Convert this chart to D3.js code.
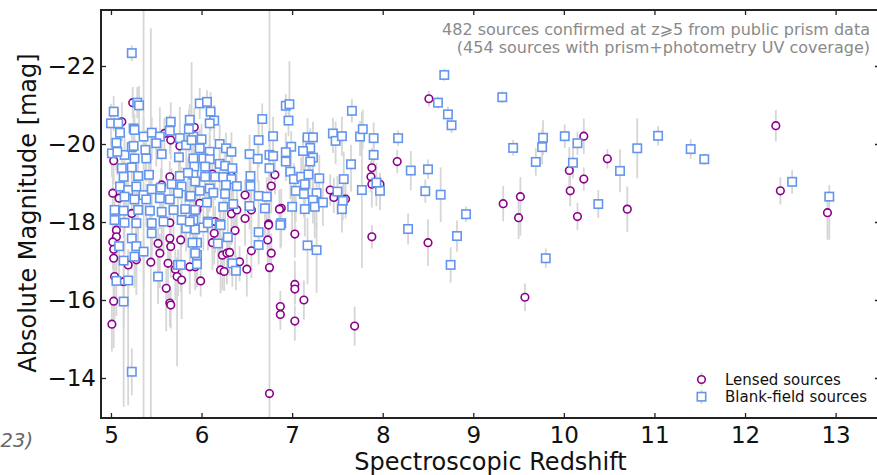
<!DOCTYPE html>
<html><head><meta charset="utf-8">
<script src="https://cdn.jsdelivr.net/npm/d3@7"></script>
<style>body{margin:0;background:#fff}svg{display:block}</style>
</head><body><svg id="c" width="877" height="475"></svg>
<script>
// ---- data ----
const xTicks = [5, 6, 7, 8, 9, 10, 11, 12, 13];
const yTicks = [-22, -20, -18, -16, -14];
const legendLabels = ["Lensed sources", "Blank-field sources"];
const noteLines = ["482 sources confirmed at z\u2A7E5 from public prism data", "(454 sources with prism+photometry UV coverage)"];
// [redshift, M_UV, err toward bright, err toward faint]
const lensed = [
[8.51,-21.16,0.2,0.2],[10.22,-20.2,0.45,0.45],[12.34,-20.47,0.4,0.4],[8.16,-19.55,0.3,0.3],
[9.33,-18.47,0.45,0.45],[9.52,-18.65,0.5,1.0],[9.50,-18.11,0.55,0.55],[10.06,-19.32,0.6,0.6],
[10.07,-18.80,0.4,0.4],[10.15,-18.14,0.35,0.35],[10.48,-19.62,0.25,0.25],[10.22,-19.10,0.3,0.3],
[10.70,-18.33,0.58,0.58],[12.39,-18.80,0.35,0.35],[12.91,-18.24,0.4,0.7],[8.50,-17.47,0.6,0.6],
[9.57,-16.07,0.35,0.35],[7.69,-15.33,0.5,0.5],[7.88,-17.62,0.3,0.3],[7.03,-16.40,0.6,0.5],
[7.03,-16.28,0.4,0.4],[7.13,-16.00,0.5,0.5],[7.03,-15.46,0.4,0.5],[6.87,-15.83,0.4,0.4],
[6.87,-15.63,0.4,0.4],[7.03,-17.69,0.6,0.6],[6.75,-13.60,10,1],[7.42,-18.82,0.4,0.4],
[7.46,-18.63,0.5,0.4],[7.59,-18.59,0.4,0.5],[7.88,-19.39,0.5,0.5],[7.87,-19.16,0.4,0.4],
[7.88,-18.97,0.4,0.6],[7.97,-18.97,0.3,0.4],[6.88,-18.35,0.5,0.5],[5.92,-20.43,0.5,0.5],
[6.12,-19.23,0.4,0.6],[6.33,-19.18,0.5,0.5],[6.81,-19.21,0.6,0.5],[6.77,-18.92,0.5,0.7],
[6.48,-18.69,0.4,0.5],[6.55,-18.31,0.5,0.6],[6.33,-18.21,0.5,0.8],[6.48,-18.09,0.4,0.7],
[6.86,-18.33,0.5,0.5],[6.74,-17.95,0.4,0.6],[5.98,-18.48,0.4,0.6],[5.95,-18.31,0.5,0.7],
[6.15,-18.01,0.4,0.8],[5.99,-16.49,0.4,0.4],[6.14,-17.71,0.5,0.8],[6.12,-17.47,0.4,0.7],
[6.23,-17.15,0.5,0.9],[6.28,-17.20,0.4,0.8],[6.31,-17.22,0.5,0.6],[6.21,-16.77,0.4,0.6],
[6.25,-16.73,0.4,0.5],[6.37,-17.78,0.5,0.7],[6.42,-16.98,0.4,0.5],[6.50,-16.79,0.4,0.7],
[6.55,-17.26,0.5,0.7],[6.74,-17.92,0.5,0.6],[6.73,-17.54,0.4,0.6],[6.77,-17.20,0.5,0.5],
[6.75,-16.83,0.4,0.4],[5.93,-16.85,0.4,0.6],[5.06,-17.79,0.5,0.8],[5.06,-17.62,0.4,0.9],
[5.02,-17.49,0.5,0.7],[5.03,-17.30,0.4,1.0],[5.03,-17.07,0.5,0.9],[5.19,-16.90,0.4,1.0],
[5.04,-16.60,0.5,1.1],[5.14,-16.47,0.5,1.2],[5.03,-15.97,0.5,1.2],[5.01,-15.38,0.5,0.7],
[5.28,-17.03,0.5,0.9],[5.44,-16.97,6,6],[5.52,-17.45,0.4,0.8],[5.54,-17.20,0.5,0.9],
[5.65,-17.58,0.4,0.7],[5.66,-17.37,0.5,0.8],[5.63,-16.94,0.4,0.9],[5.71,-16.79,0.5,0.8],
[5.73,-16.60,0.5,2.3],[5.78,-16.51,0.4,1.0],[5.61,-16.30,0.5,1.1],[5.65,-15.92,0.4,0.6],
[5.66,-15.87,0.4,0.6],[5.77,-17.54,0.5,0.8],[5.87,-16.85,0.4,0.7],[5.24,-21.06,0.4,0.4],
[5.12,-20.57,0.5,0.5],[5.59,-20.27,0.4,0.5],[5.66,-20.10,0.5,0.5],[5.76,-19.95,0.4,0.6],
[5.03,-19.57,0.5,0.6],[5.65,-19.16,0.4,0.6],[5.02,-18.74,0.5,0.7],[5.09,-18.61,0.4,0.8],
[5.23,-18.22,0.5,0.8],[5.65,-17.98,0.4,0.7],[5.17,-18.76,0.4,0.6],[5.56,-18.95,0.4,0.6],
[6.39,-18.31,0.4,0.6]
];
const blank = [
[5.23,-22.33,0.2,0.2],[5.23,-14.16,0.6,0.6],[8.68,-21.77,0.15,0.15],[9.32,-21.20,0.15,0.15],
[8.61,-21.06,0.15,0.15],[8.72,-20.76,0.2,0.2],[8.76,-20.48,0.2,0.2],[9.44,-19.90,0.2,0.2],
[9.77,-20.16,0.45,0.45],[9.76,-19.92,0.45,0.45],[9.69,-19.54,0.35,0.35],[10.01,-20.20,0.3,0.3],
[10.15,-20.02,0.3,0.3],[10.10,-19.52,0.4,0.4],[10.62,-19.31,0.55,0.55],[10.81,-19.89,0.77,0.77],
[11.04,-20.21,0.25,0.25],[11.40,-19.87,0.25,0.25],[11.55,-19.61,0.15,0.15],[12.52,-19.03,0.3,0.3],
[12.93,-18.65,0.3,1.1],[10.38,-18.46,0.36,0.36],[8.17,-20.15,0.2,0.2],[8.31,-19.32,0.5,0.5],
[8.50,-19.35,0.25,0.25],[8.47,-18.79,0.3,0.3],[8.64,-18.70,0.7,0.7],[8.92,-18.20,0.2,0.2],
[8.28,-17.82,0.4,0.4],[8.82,-17.64,0.4,0.4],[8.75,-16.90,0.45,0.45],[9.80,-17.07,0.25,0.25],
[7.17,-17.40,0.7,1.0],[7.27,-17.28,0.7,1.1],
[6.93,-20.98,0.3,0.3],[6.97,-21.02,1.1,0.4],[6.96,-20.60,0.4,0.4],[7.66,-20.85,0.3,0.3],
[6.99,-19.93,0.4,0.5],[6.93,-19.79,0.5,0.6],[6.93,-19.55,0.4,0.5],[6.98,-19.29,0.5,0.7],
[7.02,-19.10,0.4,0.6],[7.04,-18.80,0.5,0.8],[7.00,-18.39,0.4,0.7],[6.88,-17.97,0.5,0.6],
[7.17,-20.17,0.5,0.6],[7.23,-20.17,0.4,1.5],[7.20,-19.90,0.5,0.6],[7.12,-19.82,0.4,0.5],
[7.23,-19.65,0.5,0.6],[7.20,-19.55,0.4,0.7],[7.10,-19.16,0.5,0.5],[7.18,-19.22,0.4,0.6],
[7.14,-18.97,0.5,0.7],[7.13,-18.72,0.4,0.6],[7.30,-19.12,0.6,0.7],[7.27,-18.74,0.5,0.9],
[7.23,-18.56,0.4,0.6],[7.14,-18.33,0.5,0.7],[7.25,-18.39,0.4,0.8],[7.34,-18.50,0.5,0.6],
[7.45,-20.27,0.4,0.5],[7.48,-20.08,0.5,0.6],[7.55,-20.20,0.5,0.5],[7.50,-18.78,0.4,0.6],
[7.57,-19.10,0.7,0.6],[7.65,-19.48,0.5,0.7],[7.56,-18.54,0.4,0.5],[7.55,-18.33,0.4,0.6],
[7.75,-20.19,0.4,0.5],[7.78,-20.38,0.5,0.5],[7.90,-20.15,0.4,0.6],[7.90,-19.72,0.5,0.6],
[7.77,-18.82,2.0,2.0],[7.97,-18.80,0.4,0.5],[7.93,-19.01,0.5,0.6],
[5.98,-21.04,0.4,0.4],[6.06,-21.08,0.3,0.4],[6.10,-20.83,0.5,0.5],[6.14,-20.60,0.4,0.5],
[6.09,-20.53,0.5,0.6],[6.67,-20.64,0.4,0.5],[6.79,-20.20,0.5,0.6],[6.63,-20.10,0.6,0.7],
[6.53,-19.74,0.5,0.6],[6.62,-19.62,0.4,0.6],[6.75,-19.72,0.5,0.7],[6.79,-19.69,0.4,0.5],
[6.75,-19.38,0.5,0.6],[6.54,-19.18,0.4,0.7],[6.54,-18.92,0.5,0.6],[6.63,-18.67,0.4,0.8],
[6.72,-18.65,0.5,0.6],[6.70,-18.35,0.4,0.7],[6.53,-18.41,0.5,0.6],[5.87,-20.62,0.4,0.5],
[5.91,-20.19,0.5,0.6],[6.00,-20.12,0.4,0.6],[5.98,-19.89,0.5,0.5],[6.09,-19.80,0.4,0.7],
[6.20,-20.00,0.5,0.6],[6.27,-19.89,0.4,0.5],[6.33,-19.80,0.5,0.7],[5.91,-19.63,0.4,0.6],
[6.02,-19.63,0.5,0.5],[6.09,-19.61,0.4,0.6],[6.20,-19.49,0.5,0.7],[5.92,-19.42,0.4,0.6],
[6.04,-19.42,0.5,0.6],[6.26,-19.44,0.4,0.5],[6.34,-19.38,0.5,0.7],[5.91,-19.21,0.4,0.6],
[6.04,-19.16,0.5,0.7],[6.15,-19.16,0.4,0.6],[6.24,-19.15,0.5,0.6],[6.33,-19.10,0.4,0.7],
[5.93,-19.04,0.5,0.6],[5.98,-18.80,0.4,0.7],[6.09,-18.86,0.5,0.6],[6.27,-18.95,0.4,0.6],
[6.39,-18.92,0.5,0.8],[6.13,-18.75,0.4,0.6],[6.26,-18.72,0.5,0.7],[5.87,-18.65,0.4,0.6],
[6.06,-18.50,0.5,0.7],[6.24,-18.39,0.4,0.8],[6.35,-18.46,0.5,0.6],[5.93,-18.31,0.4,0.7],
[5.91,-18.05,0.5,0.8],[6.07,-18.01,0.4,0.7],[6.20,-17.95,0.5,0.8],
[5.93,-17.81,0.4,0.7],[5.95,-17.47,0.5,0.8],[5.95,-17.15,0.4,0.7],[5.95,-16.92,0.5,0.6],
[6.18,-17.45,0.4,0.8],[6.29,-17.61,0.5,0.7],[6.34,-16.94,0.4,0.6],[6.38,-16.75,0.4,0.5],
[6.63,-17.74,0.5,0.6],[6.63,-17.41,0.4,0.5],[6.87,-17.92,0.5,0.6],[6.21,-17.92,0.4,0.7],
[6.02,-17.86,0.5,0.6],[6.07,-17.97,0.4,0.7],
[5.09,-17.38,0.5,0.9],[5.23,-17.58,0.4,0.8],[5.28,-17.38,0.5,1.0],[5.36,-17.24,0.4,0.9],
[5.26,-17.11,0.5,0.8],[5.14,-17.01,0.4,1.0],[5.06,-16.49,0.5,0.9],[5.19,-16.50,0.5,3.2],
[5.14,-15.96,0.5,2.7],[5.45,-17.71,0.4,0.8],[5.52,-16.60,0.5,0.7],[5.74,-16.90,0.4,0.8],
[5.77,-16.90,0.5,0.7],[5.90,-17.47,0.4,0.6],[5.93,-17.20,0.5,0.7],[5.83,-17.84,0.4,0.6],
[5.28,-17.97,0.5,0.8],
[5.29,-21.06,0.4,0.4],[5.31,-20.99,0.5,0.5],[5.03,-20.83,0.4,0.5],[5.00,-20.53,0.5,0.6],
[5.08,-20.53,0.4,0.6],[5.25,-20.40,0.5,0.5],[5.26,-20.36,0.4,0.6],[5.66,-20.57,0.5,0.5],
[5.65,-20.34,0.4,0.6],[5.86,-20.38,0.5,0.6],[5.10,-20.29,0.4,0.5],[5.06,-20.03,0.5,0.7],
[5.01,-19.76,0.4,0.6],[5.15,-19.72,0.5,0.6],[5.23,-19.92,0.4,0.7],[5.36,-20.19,0.5,0.6],
[5.45,-20.29,0.4,0.7],[5.54,-20.19,0.75,0.5],[5.50,-20.02,0.4,0.6],[5.38,-19.85,0.5,0.6],
[5.25,-19.95,0.4,0.5],[5.26,-19.63,0.5,0.7],[5.39,-19.63,0.4,0.6],[5.56,-19.74,0.5,0.6],
[5.75,-19.66,0.4,0.7],[5.76,-20.15,0.8,0.5],[5.83,-19.97,0.5,0.6],[5.89,-20.10,2.0,1.0],
[5.12,-19.38,0.4,0.6],[5.23,-19.40,0.5,0.7],[5.30,-19.18,0.4,0.6],[5.42,-19.21,0.5,0.7],
[5.14,-19.16,0.4,0.6],[5.10,-18.91,0.5,0.8],[5.19,-18.82,0.4,0.7],[5.28,-18.91,0.5,0.6],
[5.36,-18.69,6,6],[5.45,-18.84,0.4,0.7],[5.55,-18.88,0.5,0.6],[5.67,-18.97,0.4,0.7],
[5.76,-19.18,0.5,0.6],[5.85,-19.26,0.4,0.7],[5.78,-18.91,0.5,0.6],[5.88,-18.67,0.4,0.8],
[5.74,-18.74,0.5,0.7],[5.65,-18.58,0.4,0.6],[5.54,-18.61,0.5,0.8],[5.39,-18.58,0.4,0.7],
[5.26,-18.58,0.5,0.6],[5.15,-18.65,0.4,0.8],[5.04,-18.31,0.5,0.9],[5.14,-18.29,0.4,0.7],
[5.30,-18.31,0.5,0.8],[5.43,-18.29,0.4,0.7],[5.56,-18.26,0.5,0.9],[5.69,-18.31,0.4,0.7],
[5.82,-18.33,0.5,0.8],[5.04,-18.05,0.4,0.9],[5.15,-17.98,0.5,0.8],[5.45,-17.97,0.4,0.7],
[5.58,-18.01,0.5,0.8],[5.78,-18.05,0.4,0.7],[5.87,-18.01,0.5,0.8],[5.07,-19.80,0.4,0.6]
];

// ---- layout ----
const svg = d3.select("#c");
const L = 101, T = 10, R = 880, B = 418;
const x = d3.scaleLinear().domain([4.89, 13.49]).range([L, R]);
const y = d3.scaleLinear().domain([-12.974, -23.436]).range([B, T]);
const FONT = "DejaVu Sans, sans-serif";
const errColor = "#d6d6d6", lensColor = "#8B008B", blankColor = "#6495ED";
const fmt = d => (d < 0 ? "\u2212" : "") + Math.abs(d);

svg.append("defs").append("clipPath").attr("id", "clip")
  .append("rect").attr("x", L).attr("y", T).attr("width", R - L).attr("height", B - T);

const plot = svg.append("g").attr("clip-path", "url(#clip)");
const all = lensed.concat(blank);
plot.append("g").selectAll("line").data(all).join("line")
  .attr("x1", d => x(d[0])).attr("x2", d => x(d[0]))
  .attr("y1", d => y(d[1] - d[2])).attr("y2", d => y(d[1] + d[3]))
  .attr("stroke", errColor).attr("stroke-width", 1.8);

plot.append("g").selectAll("circle").data(lensed).join("circle")
  .attr("cx", d => x(d[0])).attr("cy", d => y(d[1])).attr("r", 3.8)
  .attr("fill", "#fff").attr("stroke", lensColor).attr("stroke-width", 1.6);

const S = 8.4;
plot.append("g").selectAll("rect").data(blank).join("rect")
  .attr("x", d => x(d[0]) - S / 2).attr("y", d => y(d[1]) - S / 2)
  .attr("width", S).attr("height", S)
  .attr("fill", "#fff").attr("stroke", blankColor).attr("stroke-width", 1.6);

// ---- axes ----
function style(g) {
  g.select(".domain").remove();
  g.selectAll("line").attr("stroke", "#222").attr("stroke-width", 1.3);
  g.selectAll("text").attr("font-family", FONT).attr("font-size", 23).attr("fill", "#111");
}
svg.append("g").attr("transform", `translate(0,${B})`)
  .call(d3.axisBottom(x).tickValues(xTicks).tickSize(-5).tickPadding(9).tickFormat(fmt)).call(style);
svg.append("g").attr("transform", `translate(0,${T})`)
  .call(d3.axisTop(x).tickValues(xTicks).tickSize(-5).tickFormat("")).call(style);
svg.append("g").attr("transform", `translate(${L},0)`)
  .call(d3.axisLeft(y).tickValues(yTicks).tickSize(-5).tickPadding(5).tickFormat(fmt)).call(style);
svg.append("g").attr("transform", `translate(${R},0)`)
  .call(d3.axisRight(y).tickValues(yTicks).tickSize(-5).tickFormat("")).call(style);

svg.append("rect").attr("x", L).attr("y", T).attr("width", R - L).attr("height", B - T)
  .attr("fill", "none").attr("stroke", "#222").attr("stroke-width", 2);

// axis labels
svg.append("text").attr("x", (L + R) / 2).attr("y", 470).attr("text-anchor", "middle")
  .attr("font-family", FONT).attr("font-size", 24).attr("fill", "#111").text("Spectroscopic Redshift");
svg.append("text").attr("transform", `translate(36,${(T + B) / 2 - 1}) rotate(-90)`).attr("text-anchor", "middle")
  .attr("font-family", FONT).attr("font-size", 24).attr("fill", "#111").text("Absolute Magnitude [mag]");

// note
svg.append("g").selectAll("text").data(noteLines).join("text")
  .attr("x", 870).attr("y", (d, i) => 35 + i * 18).attr("text-anchor", "end")
  .attr("font-family", FONT).attr("font-size", 16).attr("fill", "#8a8a8a").text(d => d);

// residual caption at left
svg.append("text").attr("x", 33).attr("y", 447).attr("text-anchor", "end")
  .attr("font-family", FONT).attr("font-size", 19.5).attr("font-style", "italic").attr("fill", "#666").text("23)");

// legend
const lg = svg.append("g");
const ly = [379.5, 396.7];
ly.forEach(v => lg.append("line").attr("x1", 701.5).attr("x2", 701.5).attr("y1", v - 7).attr("y2", v + 7)
  .attr("stroke", errColor).attr("stroke-width", 1.8));
lg.append("circle").attr("cx", 701.5).attr("cy", ly[0]).attr("r", 3.8).attr("fill", "#fff")
  .attr("stroke", lensColor).attr("stroke-width", 1.6);
lg.append("rect").attr("x", 701.5 - S / 2).attr("y", ly[1] - S / 2).attr("width", S).attr("height", S)
  .attr("fill", "#fff").attr("stroke", blankColor).attr("stroke-width", 1.6);
lg.selectAll("text").data(legendLabels).join("text")
  .attr("x", 725).attr("y", (d, i) => [385, 402][i])
  .attr("font-family", FONT).attr("font-size", 15).attr("fill", "#111").text(d => d);
</script></body></html>
